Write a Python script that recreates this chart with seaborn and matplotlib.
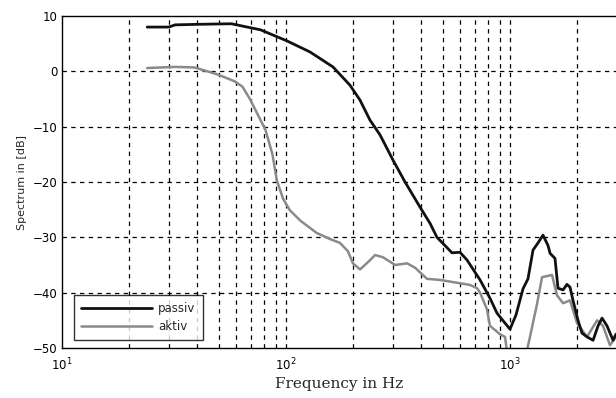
import numpy as np
import pandas as pd
import matplotlib
matplotlib.use("Agg")
import matplotlib.pyplot as plt
import seaborn as sns
from matplotlib.ticker import LogLocator, NullFormatter

# ================= data =================
passiv_freq = [24, 30, 32, 41, 57, 77, 101, 128, 162, 193, 214, 237, 263, 300, 340,
               396, 440, 472, 513, 551, 598, 643, 735, 814, 875, 950, 1000, 1064,
               1143, 1203, 1267, 1334, 1404, 1479, 1510, 1588, 1638, 1726, 1796,
               1853, 1911, 2012, 2096, 2208, 2349, 2472, 2576, 2711, 2884, 2972]
passiv_db = [8.0, 8.0, 8.4, 8.5, 8.6, 7.5, 5.5, 3.5, 0.8, -2.5, -5.2, -8.8, -11.5,
             -16.0, -20.0, -24.5, -27.5, -30.0, -31.5, -32.8, -32.7, -34.1, -37.7,
             -41.0, -43.7, -45.5, -46.6, -44.0, -39.3, -37.5, -32.3, -31.0, -29.6,
             -31.5, -32.9, -33.8, -39.2, -39.5, -38.5, -39.0, -41.4, -45.0, -47.3,
             -48.0, -48.6, -46.0, -44.6, -46.0, -48.6, -47.5]

aktiv_freq = [24, 32, 39, 49, 59, 64, 69, 75, 81, 87, 91, 97, 104, 116, 137, 157,
              174, 189, 199, 214, 232, 250, 271, 307, 347, 377, 426, 487, 540, 598,
              663, 713, 735, 789, 814, 902, 950, 980, 1000, 1167, 1228, 1321, 1390,
              1540, 1622, 1726, 1853, 1992, 2208, 2446, 2601, 2795, 2972]
aktiv_db = [0.6, 0.8, 0.7, -0.5, -1.8, -2.8, -5.0, -7.9, -10.6, -15.0, -19.7, -23.0,
            -25.1, -27.0, -29.2, -30.3, -31.0, -32.5, -34.7, -35.8, -34.5, -33.2,
            -33.6, -35.0, -34.7, -35.5, -37.5, -37.7, -38.0, -38.3, -38.6, -39.2,
            -40.0, -43.0, -46.0, -47.5, -48.0, -52.0, -53.0, -52.0, -48.0, -42.0,
            -37.2, -36.8, -40.5, -41.9, -41.4, -45.5, -48.0, -45.0, -46.0, -49.5,
            -48.0]

y_ticks = [10, 0, -10, -20, -30, -40, -50]
# ===========================================

df = pd.concat([
    pd.DataFrame({"Frequency": passiv_freq, "Spectrum": passiv_db, "Series": "passiv"}),
    pd.DataFrame({"Frequency": aktiv_freq, "Spectrum": aktiv_db, "Series": "aktiv"}),
], ignore_index=True)

sns.set_theme(style="white")
plt.rcParams["font.family"] = ["DejaVu Sans"]

fig = plt.figure(figsize=(6.16, 3.98), dpi=100)
# axes run off the right edge like the scanned original
ax = fig.add_axes([62 / 616, 50 / 398, 554 / 616, 332 / 398])

colors = {"passiv": "#111111", "aktiv": "#8a8a8a"}

# aktiv first so passiv sits on top
for name, lw in [("aktiv", 1.8), ("passiv", 2.0)]:
    sns.lineplot(data=df[df["Series"] == name], x="Frequency", y="Spectrum",
                 color=colors[name], linewidth=lw, sort=False, estimator=None,
                 label=name, ax=ax)

ax.set_xscale("log")
ax.set_xlim(10, 10 ** (1 + 554 / 224))
ax.set_ylim(-50, 10)
ax.set_yticks(y_ticks)
ax.set_xticks([10, 100, 1000])
ax.set_xticklabels([r"$10^1$", r"$10^2$", r"$10^3$"])
ax.xaxis.set_minor_locator(LogLocator(base=10, subs=np.arange(2, 10)))
ax.xaxis.set_minor_formatter(NullFormatter())

# dashed grid: horizontal at major y, vertical at every log tick
dash = dict(color="black", linestyle=(0, (3.5, 3.5)), linewidth=0.9)
ax.grid(False)
for y in y_ticks[1:-1]:
    ax.axhline(y, zorder=0, **dash)
for dec in [10, 100, 1000]:
    for m in range(1, 10):
        f = dec * m
        if 10 < f < 3000:
            ax.axvline(f, zorder=0, **dash)

ax.tick_params(axis="both", which="both", direction="in", colors="black",
               labelsize=8.5, length=3, width=0.8)
ax.tick_params(axis="x", which="major", pad=6)

for side in ["left", "bottom", "top"]:
    ax.spines[side].set_color("black")
    ax.spines[side].set_linewidth(1.0)
ax.spines["right"].set_visible(False)

ax.set_xlabel("Frequency in Hz", family="DejaVu Serif", fontsize=11, labelpad=3)
ax.set_ylabel("Spectrum in [dB]", fontsize=8, labelpad=4)

handles, labels = ax.get_legend_handles_labels()
order = [labels.index("passiv"), labels.index("aktiv")]
leg = ax.legend([handles[i] for i in order], [labels[i] for i in order],
                loc="lower left", bbox_to_anchor=(0.02, 0.02), fontsize=8.5,
                frameon=True, fancybox=False, handlelength=6.0,
                borderpad=0.6, labelspacing=0.45, handletextpad=0.5,
                borderaxespad=0.1)
leg.get_frame().set_edgecolor("black")
leg.get_frame().set_linewidth(1.0)

fig.savefig("out.png", dpi=100)
